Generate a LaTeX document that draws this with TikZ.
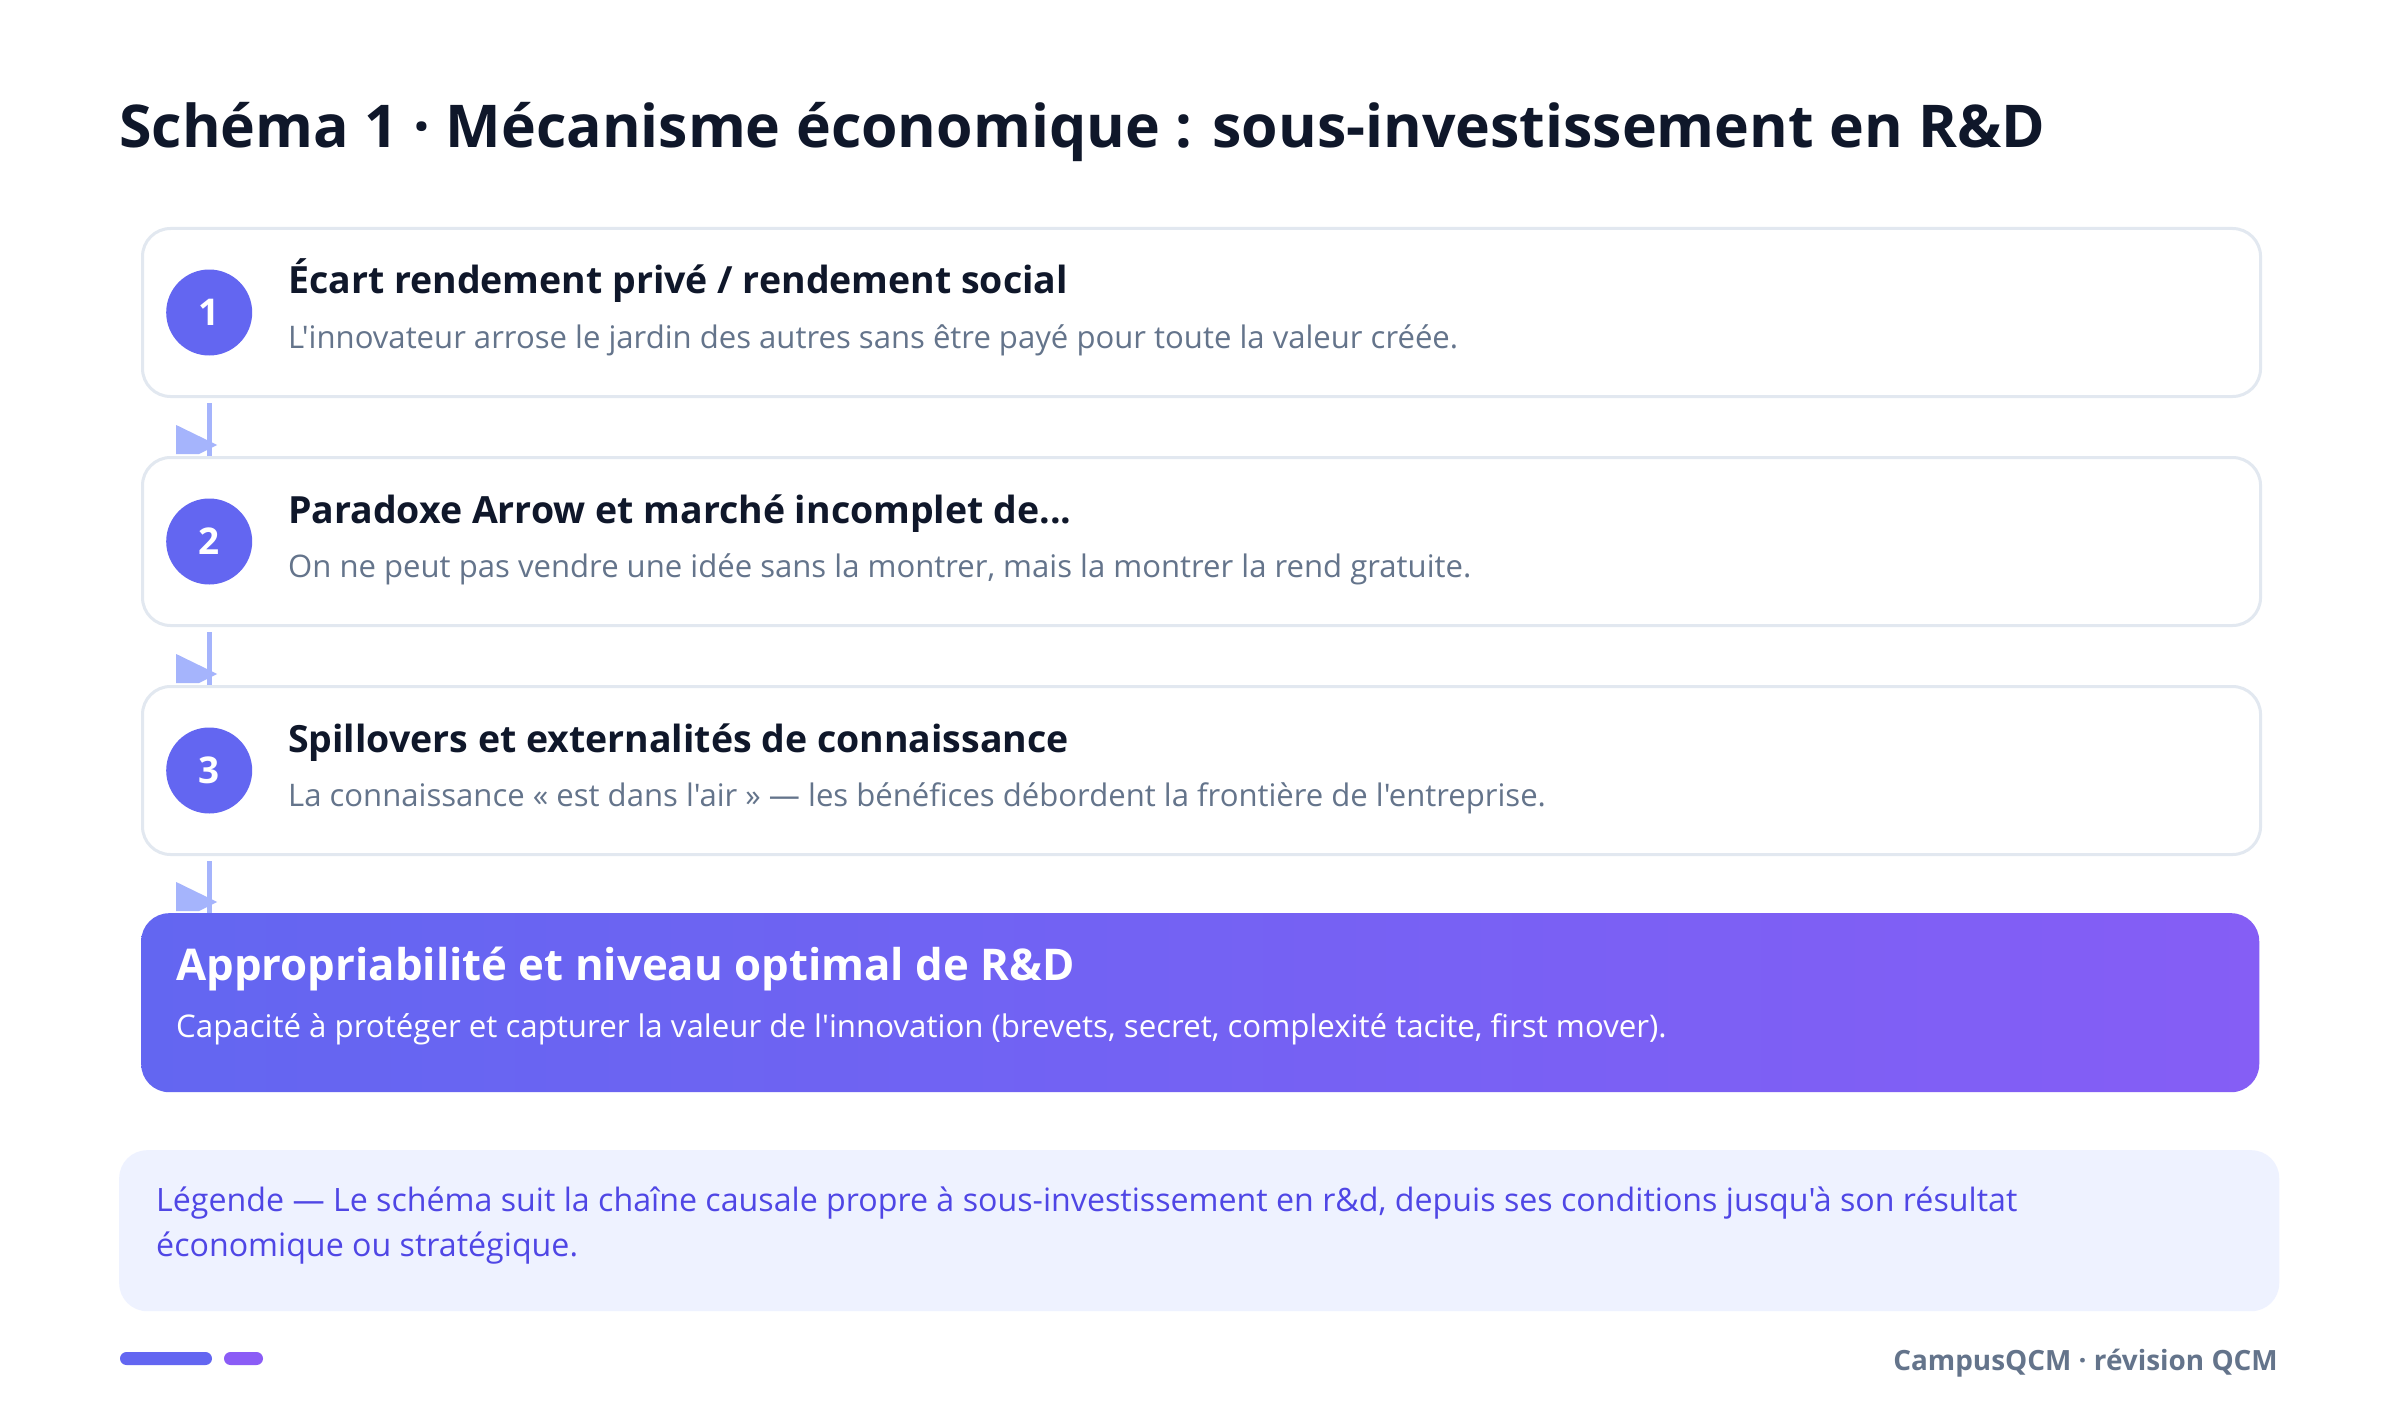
\documentclass[tikz,border=0pt]{standalone}
\usepackage{fontspec}
\setmainfont{Open Sans}[Ligatures=TeXOff]
\usepackage{tikz}
\usetikzlibrary{positioning,calc}

\definecolor{ink}{HTML}{0F172A}
\definecolor{slate}{HTML}{64748B}
\definecolor{rim}{HTML}{E2E8F0}
\definecolor{indigo}{HTML}{6366F1}
\definecolor{violet}{HTML}{8B5CF6}
\definecolor{lilac}{HTML}{A5B4FC}
\definecolor{legendbg}{HTML}{EEF2FF}
\definecolor{legendtx}{HTML}{4F46E5}

\begin{document}
\begin{tikzpicture}[x=1bp,y=-1bp]
  \tikzset{stepbox/.style={draw=rim,line width=3bp,fill=white,rounded corners=28bp,
                           minimum width=2118bp,minimum height=168bp,anchor=north west,inner sep=0pt},
           num/.style={circle,fill=indigo,text=white,minimum size=86bp,inner sep=0pt,anchor=west,
                       font=\fontsize{37}{37}\selectfont\bfseries},
           head/.style={anchor=base west,inner sep=0pt,text=ink,font=\fontsize{37.6}{42}\selectfont\bfseries},
           sub/.style={anchor=base west,inner sep=0pt,text=slate,font=\fontsize{31.2}{36}\selectfont},
           link/.style={draw=lilac,line width=5bp,shorten <=5bp}}
  \useasboundingbox (0,0) rectangle (2400,1420);
  \fill[white] (0,0) rectangle (2400,1420);

  % title
  \node[anchor=base west,inner sep=0pt,text=ink,font=\fontsize{59.2}{64}\selectfont\bfseries] (title) at (119,148)
       {Schéma 1 · Mécanisme économique : sous-investissement en R\&D};

  % steps
  \node[stepbox] (s1) at (141,227) {};
  \node[num,right=25bp of s1.west] (n1) {1};
  \node[head] (h1) at ($(s1.north west)+(147,67)$) {Écart rendement privé / rendement social};
  \node[sub] (t1) at ($(s1.north west)+(147,121)$) {L'innovateur arrose le jardin des autres sans être payé pour toute la valeur créée.};

  \node[stepbox] (s2) at (141,456) {};
  \node[num,right=25bp of s2.west] (n2) {2};
  \node[head] (h2) at ($(s2.north west)+(147,67)$) {Paradoxe Arrow et marché incomplet de...};
  \node[sub] (t2) at ($(s2.north west)+(147,121)$) {On ne peut pas vendre une idée sans la montrer, mais la montrer la rend gratuite.};

  \node[stepbox] (s3) at (141,685) {};
  \node[num,right=25bp of s3.west] (n3) {3};
  \node[head] (h3) at ($(s3.north west)+(147,67)$) {Spillovers et externalités de connaissance};
  \node[sub] (t3) at ($(s3.north west)+(147,121)$) {La connaissance « est dans l'air » — les bénéfices débordent la frontière de l'entreprise.};

  % result
  \node[anchor=north west,rounded corners=28bp,minimum width=2118bp,minimum height=179bp,inner sep=0pt,
        left color=indigo,right color=violet!85!indigo] (fin) at (141,913) {};
  \node[anchor=base west,inner sep=0pt,text=white,font=\fontsize{43.9}{48}\selectfont\bfseries] (fh) at ($(fin.north west)+(35,67)$)
       {Appropriabilité et niveau optimal de R\&D};
  \node[anchor=base west,inner sep=0pt,text=white,font=\fontsize{31.35}{36}\selectfont] (ft) at ($(fin.north west)+(35,124)$)
       {Capacité à protéger et capturer la valeur de l'innovation (brevets, secret, complexité tacite, first mover).};

  % links
  \draw[link] (n1 |- s1.south) -- (n1 |- s2.north);
  \fill[lilac] ($(n1 |- s2.north)+(-33,-31)$) -- ++(41,20) -- ++(-18,9) -- ++(-23,0) -- cycle;
  \draw[link] (n2 |- s2.south) -- (n2 |- s3.north);
  \fill[lilac] ($(n2 |- s3.north)+(-33,-31)$) -- ++(41,20) -- ++(-18,9) -- ++(-23,0) -- cycle;
  \draw[link] (n3 |- s3.south) -- (n3 |- fin.north);
  \fill[lilac] ($(n3 |- fin.north)+(-33,-31)$) -- ++(41,20) -- ++(-18,9) -- ++(-23,0) -- cycle;

  % legend
  \node[anchor=north west,fill=legendbg,rounded corners=28bp,minimum width=2160bp,minimum height=161bp,inner sep=0pt] (leg) at (119,1150) {};
  \node[anchor=north west,inner sep=0pt,align=left,text=legendtx,font=\fontsize{32.3}{45}\selectfont] (legt) at ($(leg.north west)+(37,37)$)
       {Légende — Le schéma suit la chaîne causale propre à sous-investissement en r\&d, depuis ses conditions jusqu'à son résultat\\économique ou stratégique.};

  % footer
  \fill[indigo,rounded corners=6.5bp] (120,1352) rectangle (212,1365);
  \fill[violet,rounded corners=6.5bp] (224,1352) rectangle (263,1365);
  \node[anchor=base east,inner sep=0pt,text=slate,font=\fontsize{28}{32}\selectfont\bfseries] (foot) at (2278,1370)
       {CampusQCM · révision QCM};
\end{tikzpicture}
\end{document}
